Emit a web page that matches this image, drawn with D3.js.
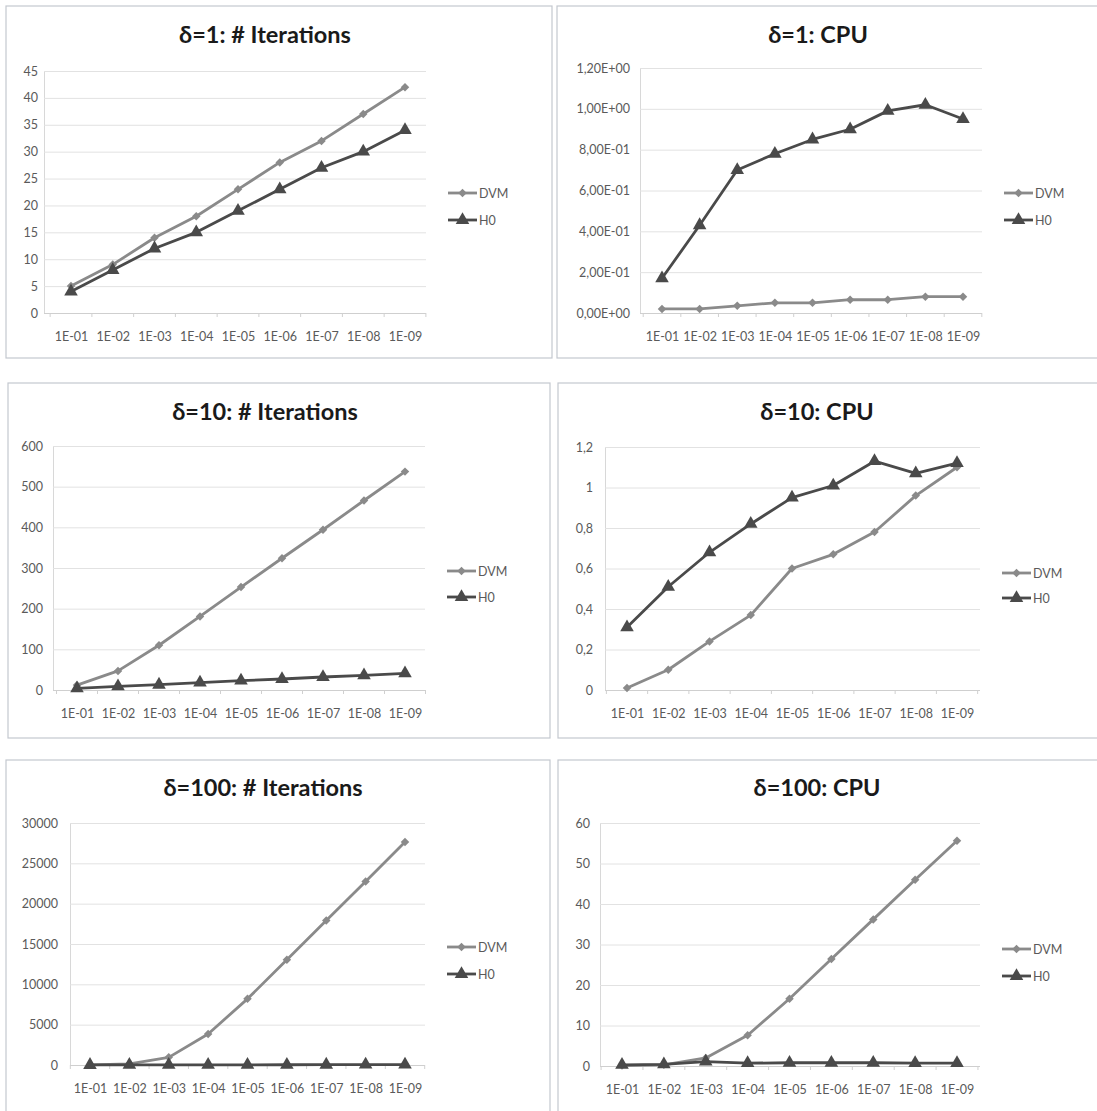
<!DOCTYPE html>
<html>
<head>
<meta charset="utf-8">
<script src="https://cdn.jsdelivr.net/npm/d3@7"></script>
<style>
  body { margin: 0; background: #fff; }
  svg { display: block; }
</style>
</head>
<body>
<svg id="chart" width="1097" height="1111"></svg>
<script>
// ---------- data ----------
const categories = ["1E-01","1E-02","1E-03","1E-04","1E-05","1E-06","1E-07","1E-08","1E-09"];
const seriesNames = ["DVM","H0"];

const titles = ["δ=1: # Iterations","δ=1: CPU","δ=10: # Iterations","δ=10: CPU","δ=100: # Iterations","δ=100: CPU"];

const d1IterDVM = [5, 9, 14, 18, 23, 28, 32, 37, 42];
const d1IterH0  = [4, 8, 12, 15, 19, 23, 27, 30, 34];

const d1CpuDVM  = [0.02, 0.02, 0.035, 0.05, 0.05, 0.065, 0.065, 0.08, 0.08];
const d1CpuH0   = [0.17, 0.43, 0.70, 0.78, 0.85, 0.90, 0.99, 1.02, 0.95];

const d10IterDVM = [12, 47, 110, 181, 253, 324, 394, 466, 537];
const d10IterH0  = [4, 9, 13, 18, 23, 27, 32, 36, 41];

const d10CpuDVM = [0.01, 0.10, 0.24, 0.37, 0.60, 0.67, 0.78, 0.96, 1.10];
const d10CpuH0  = [0.31, 0.51, 0.68, 0.82, 0.95, 1.01, 1.13, 1.07, 1.12];

const d100IterDVM = [15, 150, 950, 3850, 8200, 13050, 17900, 22750, 27650];
const d100IterH0  = [5, 10, 15, 20, 25, 30, 35, 40, 45];

const d100CpuDVM = [0.1, 0.3, 2.0, 7.6, 16.6, 26.4, 36.2, 46.0, 55.6];
const d100CpuH0  = [0.3, 0.4, 1.1, 0.7, 0.8, 0.8, 0.8, 0.7, 0.7];

const ticks1Iter  = [0,5,10,15,20,25,30,35,40,45];
const ticks1Cpu   = [0,0.2,0.4,0.6,0.8,1.0,1.2];
const ticks1CpuLabels = ["0,00E+00","2,00E-01","4,00E-01","6,00E-01","8,00E-01","1,00E+00","1,20E+00"];
const ticks10Iter = [0,100,200,300,400,500,600];
const ticks10Cpu  = [0,0.2,0.4,0.6,0.8,1,1.2];
const ticks10CpuLabels = ["0","0,2","0,4","0,6","0,8","1","1,2"];
const ticks100Iter = [0,5000,10000,15000,20000,25000,30000];
const ticks100Cpu  = [0,10,20,30,40,50,60];

// ---------- layout ----------
const colors = { DVM: "#8a8a8a", H0: "#4a4a4a" };
const svg = d3.select("#chart");
const FONT = "Lato, 'Open Sans', sans-serif";

const panels = [
  { title: titles[0], box:[6,6,546,352], titleX:265, titleY:43,
    xFirst:71, xLast:405, left:44, right:426, top:71, bottom:313, labelX:38,
    ticks: ticks1Iter, labels: ticks1Iter.map(String), dvm: d1IterDVM, h0: d1IterH0, legY:[193,220] },
  { title: titles[1], box:[557,6,545,352], titleX:818, titleY:43,
    xFirst:662, xLast:963, left:640, right:982, top:68, bottom:313, labelX:630,
    ticks: ticks1Cpu, labels: ticks1CpuLabels, dvm: d1CpuDVM, h0: d1CpuH0, legY:[193,220] },
  { title: titles[2], box:[8,383,542,355], titleX:265, titleY:420,
    xFirst:77, xLast:405, left:53, right:425, top:446, bottom:690, labelX:43,
    ticks: ticks10Iter, labels: ticks10Iter.map(String), dvm: d10IterDVM, h0: d10IterH0, legY:[571,597] },
  { title: titles[3], box:[558,383,545,355], titleX:817, titleY:420,
    xFirst:627, xLast:957, left:605, right:980, top:447, bottom:690, labelX:593,
    ticks: ticks10Cpu, labels: ticks10CpuLabels, dvm: d10CpuDVM, h0: d10CpuH0, legY:[573,598] },
  { title: titles[4], box:[6,760,544,360], titleX:263, titleY:796,
    xFirst:90, xLast:405, left:70, right:425, top:823, bottom:1065, labelX:58,
    ticks: ticks100Iter, labels: ticks100Iter.map(String), dvm: d100IterDVM, h0: d100IterH0, legY:[947,974] },
  { title: titles[5], box:[558,760,545,360], titleX:817, titleY:796,
    xFirst:622, xLast:957, left:600, right:980, top:823, bottom:1066, labelX:590,
    ticks: ticks100Cpu, labels: ticks100Cpu.map(String), dvm: d100CpuDVM, h0: d100CpuH0, legY:[949,976] }
];

const diamond = d3.symbol().type(d3.symbolSquare).size(36);
const triangle = d3.symbol().type(d3.symbolTriangle).size(80);

panels.forEach(p => {
  const g = svg.append("g");
  // frame
  g.append("rect").attr("x", p.box[0]).attr("y", p.box[1])
    .attr("width", p.box[2]).attr("height", p.box[3])
    .attr("fill", "#fff").attr("stroke", "#c4c8cf").attr("stroke-width", 1.2);

  // title
  g.append("text").attr("x", p.titleX).attr("y", p.titleY)
    .attr("text-anchor", "middle")
    .style("font-family", FONT)
    .style("font-weight", "bold").style("font-size", "23.5px")
    .style("fill", "#1a1a1a").text(p.title);

  const ymax = p.ticks[p.ticks.length - 1];
  const y = d3.scaleLinear().domain([0, ymax]).range([p.bottom, p.top]);
  const x = d3.scalePoint().domain(categories).range([p.xFirst, p.xLast]);
  const step = x.step();

  // gridlines + y labels
  const yAxis = d3.axisLeft(y).tickValues(p.ticks)
    .tickFormat((d, i) => p.labels[i]).tickSize(-(p.right - p.left)).tickPadding(p.left - p.labelX);
  const ya = g.append("g").attr("transform", `translate(${p.left},0)`).call(yAxis);
  ya.select(".domain").attr("stroke", "#d8d8d8");
  ya.selectAll(".tick line").attr("stroke", "#e2e2e2").attr("stroke-width", 1);
  ya.selectAll(".tick").filter(d => d === 0).select("line").attr("stroke", "#cfcfcf");
  ya.selectAll(".tick text")
    .style("font-family", FONT).style("font-size", "12.5px")
    .style("fill", "#5a5a5a");

  // x axis
  const xAxis = d3.axisBottom(x).tickSize(0).tickPadding(19);
  const xa = g.append("g").attr("transform", `translate(0,${p.bottom})`).call(xAxis);
  xa.select(".domain").remove();
  xa.selectAll(".tick text")
    .style("font-family", FONT).style("font-size", "12.5px")
    .style("fill", "#5a5a5a");
  const bounds = d3.range(categories.length + 1).map(i => p.xFirst - step / 2 + i * step);
  g.append("g").selectAll("line").data(bounds).join("line")
    .attr("x1", d => d).attr("x2", d => d)
    .attr("y1", p.bottom).attr("y2", p.bottom + 4)
    .attr("stroke", "#d0d0d0");

  // lines
  const line = d3.line().x((d, i) => x(categories[i])).y(d => y(d));
  const seriesData = [
    { name: "DVM", values: p.dvm, sym: diamond, rot: 45 },
    { name: "H0", values: p.h0, sym: triangle, rot: 0 }
  ];
  seriesData.forEach(s => {
    g.append("path").datum(s.values).attr("d", line)
      .attr("fill", "none").attr("stroke", colors[s.name]).attr("stroke-width", 2.8)
      .attr("stroke-linejoin", "round");
    g.append("g").selectAll("path").data(s.values).join("path")
      .attr("d", s.sym)
      .attr("transform", (d, i) => `translate(${x(categories[i])},${y(d)}) rotate(${s.rot})`)
      .attr("fill", colors[s.name]);
  });

  // legend
  seriesData.forEach((s, i) => {
    const ly = p.legY[i];
    const lx = p.right + 22;
    g.append("line").attr("x1", lx).attr("x2", lx + 29).attr("y1", ly).attr("y2", ly)
      .attr("stroke", colors[s.name]).attr("stroke-width", 2.8);
    g.append("path").attr("d", s.sym).attr("transform", `translate(${lx + 14.5},${ly}) rotate(${s.rot})`)
      .attr("fill", colors[s.name]);
    g.append("text").attr("x", lx + 31).attr("y", ly + 4.5)
      .style("font-family", FONT).style("font-size", "12.5px")
      .style("fill", "#5a5a5a").text(s.name);
  });
});
</script>
</body>
</html>
